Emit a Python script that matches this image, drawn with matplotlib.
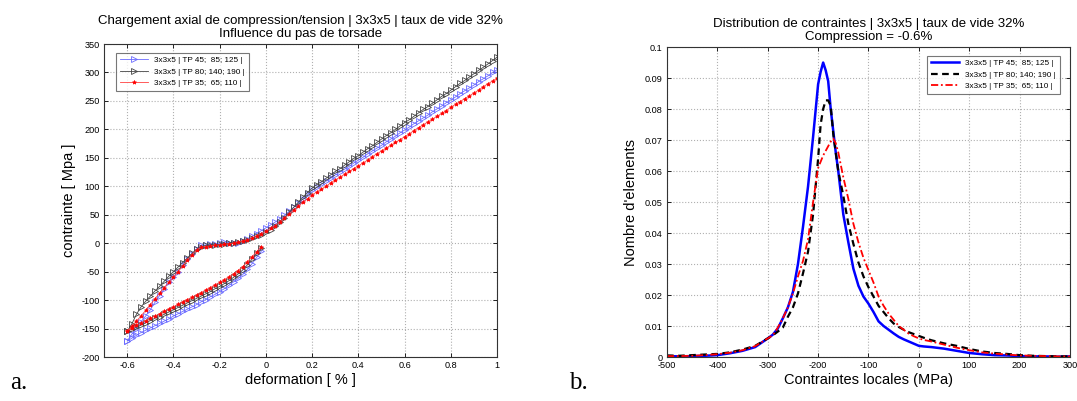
import numpy as np
import matplotlib
matplotlib.use("Agg")
import matplotlib.pyplot as plt

# ---- panel a : loading curves (strain in %, stress in MPa) ----
STRAIN_LOWER = [-0.02, -0.04, -0.06, -0.08, -0.10, -0.12, -0.14, -0.16, -0.18, -0.20,
                -0.22, -0.24, -0.26, -0.28, -0.30, -0.32, -0.34, -0.36, -0.38, -0.40,
                -0.42, -0.44, -0.46, -0.48, -0.50, -0.52, -0.54, -0.56, -0.58, -0.60]
STRAIN_UPPER = [-0.60, -0.58, -0.56, -0.54, -0.52, -0.50, -0.48, -0.46, -0.44, -0.42,
                -0.40, -0.38, -0.36, -0.34, -0.32, -0.30, -0.28, -0.26, -0.24, -0.22,
                -0.20, -0.18, -0.16, -0.14, -0.12, -0.10, -0.08, -0.06, -0.04, -0.02,
                0.00, 0.02, 0.04, 0.06, 0.08, 0.10, 0.12, 0.14, 0.16, 0.18,
                0.20, 0.22, 0.24, 0.26, 0.28, 0.30, 0.32, 0.34, 0.36, 0.38,
                0.40, 0.42, 0.44, 0.46, 0.48, 0.50, 0.52, 0.54, 0.56, 0.58,
                0.60, 0.62, 0.64, 0.66, 0.68, 0.70, 0.72, 0.74, 0.76, 0.78,
                0.80, 0.82, 0.84, 0.86, 0.88, 0.90, 0.92, 0.94, 0.96, 0.98, 1.00]

blue_lower = [-14, -25, -36, -46, -55, -62, -68, -74, -80, -85,
              -90, -94, -99, -103, -108, -112, -116, -120, -124, -128,
              -133, -137, -141, -145, -149, -153, -157, -162, -167, -172]
blue_upper = [-172, -160, -150, -138, -128, -117, -104, -92, -80, -69,
              -59, -50, -38, -28, -19, -10, -4, -3, -2, -1,
              0, 2, 1, 0, 1, 4, 8, 12, 17, 22,
              27, 32, 37, 43, 49, 56, 63, 70, 78, 86,
              93, 98, 104, 109, 114, 120, 125, 130, 135, 141,
              146, 151, 157, 162, 167, 172, 178, 183, 188, 194,
              199, 204, 210, 215, 220, 225, 231, 236, 241, 247,
              252, 257, 263, 268, 273, 278, 284, 289, 294, 300, 305]

black_lower = [-9, -18, -28, -38, -47, -54, -60, -66, -71, -76,
               -80, -85, -89, -93, -97, -101, -105, -109, -113, -117,
               -121, -125, -129, -132, -136, -140, -144, -148, -151, -155]
black_upper = [-155, -142, -125, -112, -102, -93, -84, -76, -67, -58,
               -50, -42, -34, -26, -18, -11, -6, -4, -3, -3,
               -2, -1, 0, 1, 2, 4, 6, 9, 12, 15,
               19, 24, 30, 37, 45, 54, 63, 72, 81, 89,
               97, 103, 108, 114, 120, 126, 131, 137, 143, 149,
               154, 160, 166, 171, 177, 183, 189, 194, 200, 206,
               212, 217, 223, 229, 235, 240, 246, 252, 258, 263,
               269, 275, 281, 286, 292, 298, 304, 309, 315, 321, 327]

red_lower = [-6, -15, -24, -33, -41, -48, -54, -59, -64, -69,
             -73, -78, -82, -87, -91, -95, -99, -103, -107, -112,
             -116, -120, -124, -128, -132, -136, -140, -144, -149, -155]
red_upper = [-155, -146, -137, -128, -118, -108, -98, -88, -78, -69,
             -60, -50, -40, -30, -20, -12, -7, -6, -5, -4,
             -3, -2, -1, 0, 2, 4, 6, 9, 13, 17,
             21, 26, 31, 37, 44, 51, 58, 65, 72, 78,
             85, 90, 95, 100, 106, 111, 116, 121, 126, 131,
             136, 141, 146, 152, 157, 162, 167, 172, 177, 182,
             187, 192, 198, 203, 208, 213, 218, 223, 228, 233,
             239, 244, 249, 254, 259, 264, 269, 275, 280, 285, 290]

LABELS = ["3x3x5 | TP 45;  85; 125 |",
          "3x3x5 | TP 80; 140; 190 |",
          "3x3x5 | TP 35;  65; 110 |"]

# ---- panel b : stress distribution ----
SIGMA = [-500, -475, -450, -425, -400, -375, -350, -325, -300, -290,
         -280, -270, -260, -250, -240, -230, -220, -210, -200, -195,
         -190, -185, -180, -175, -170, -165, -160, -150, -140, -130,
         -120, -110, -100, -90, -80, -70, -60, -50, -40, -30,
         -20, -10, 0, 10, 25, 50, 75, 100, 125, 150,
         175, 200, 225, 250, 275, 300]

dist_blue = [0.0003, 0.0002, 0.0003, 0.0004, 0.0006, 0.0012, 0.0020, 0.0032, 0.0060, 0.0072,
             0.0092, 0.0125, 0.0160, 0.0210, 0.0300, 0.0420, 0.0550, 0.0710, 0.0880, 0.0920,
             0.0950, 0.0925, 0.0890, 0.0800, 0.0730, 0.0660, 0.0600, 0.0460, 0.0370, 0.0285,
             0.0230, 0.0195, 0.0172, 0.0145, 0.0115, 0.0100, 0.0088, 0.0076, 0.0065, 0.0057,
             0.0050, 0.0043, 0.0036, 0.0034, 0.0032, 0.0027, 0.0020, 0.0013, 0.0009, 0.0006,
             0.0005, 0.0003, 0.0002, 0.0002, 0.0001, 0.0002]
dist_black = [0.0005, 0.0004, 0.0006, 0.0008, 0.0010, 0.0015, 0.0024, 0.0036, 0.0060, 0.0070,
              0.0082, 0.0095, 0.0130, 0.0160, 0.0205, 0.0270, 0.0340, 0.0460, 0.0640, 0.0750,
              0.0800, 0.0828, 0.0828, 0.0810, 0.0720, 0.0660, 0.0600, 0.0520, 0.0430, 0.0365,
              0.0305, 0.0260, 0.0225, 0.0195, 0.0165, 0.0145, 0.0125, 0.0108, 0.0097, 0.0088,
              0.0080, 0.0074, 0.0068, 0.0062, 0.0054, 0.0044, 0.0036, 0.0026, 0.0018, 0.0013,
              0.0010, 0.0006, 0.0004, 0.0003, 0.0002, 0.0002]
dist_red = [0.0003, 0.0003, 0.0004, 0.0006, 0.0009, 0.0014, 0.0022, 0.0035, 0.0060, 0.0070,
            0.0095, 0.0125, 0.0160, 0.0205, 0.0260, 0.0310, 0.0380, 0.0500, 0.0610, 0.0630,
            0.0650, 0.0665, 0.0680, 0.0695, 0.0705, 0.0690, 0.0660, 0.0580, 0.0510, 0.0430,
            0.0370, 0.0320, 0.0280, 0.0240, 0.0195, 0.0165, 0.0140, 0.0120, 0.0100, 0.0088,
            0.0075, 0.0067, 0.0060, 0.0055, 0.0050, 0.0040, 0.0030, 0.0022, 0.0015, 0.0011,
            0.0008, 0.0005, 0.0004, 0.0003, 0.0002, 0.0002]

plt.rcParams["font.family"] = ["Liberation Sans", "DejaVu Sans"]
plt.rcParams["axes.unicode_minus"] = False

fig = plt.figure(figsize=(10.77, 4.01), dpi=100)
ax1 = fig.add_axes([0.0966, 0.1097, 0.365, 0.7805])
ax2 = fig.add_axes([0.6193, 0.1097, 0.3742, 0.773])

# panel a
strain = STRAIN_LOWER + STRAIN_UPPER
ax1.plot(strain, blue_lower + blue_upper, color="#6a6aff", lw=0.6,
         marker=">", ms=4, mfc="none", mec="#6a6aff", mew=0.6, label=LABELS[0])
ax1.plot(strain, black_lower + black_upper, color="#444444", lw=0.6,
         marker=">", ms=4, mfc="none", mec="#444444", mew=0.6, label=LABELS[1])
ax1.plot(strain, red_lower + red_upper, color="#ff4040", lw=0.6,
         marker="*", ms=3, mfc="red", mec="red", mew=0.5, label=LABELS[2])

ax1.set_xlim(-0.7, 1.0)
ax1.set_ylim(-200, 350)
xt = [-0.6, -0.4, -0.2, 0, 0.2, 0.4, 0.6, 0.8, 1.0]
ax1.set_xticks(xt)
ax1.set_xticklabels(["-0.6", "-0.4", "-0.2", "0", "0.2", "0.4", "0.6", "0.8", "1"])
ax1.set_yticks(np.arange(-200, 351, 50))
ax1.set_xlabel("deformation [ % ]", fontsize=10.5, labelpad=2)
ax1.set_ylabel("contrainte [ Mpa ]", fontsize=10.5, labelpad=4)
ax1.set_title("Chargement axial de compression/tension | 3x3x5 | taux de vide 32%\n"
              "Influence du pas de torsade", fontsize=9.5, pad=5, linespacing=1.1)
leg1 = ax1.legend(loc="upper left", fontsize=5.9, frameon=True, fancybox=False,
                  edgecolor="#555555", borderpad=0.45, handlelength=3.4,
                  labelspacing=0.45, bbox_to_anchor=(0.02, 0.985))
leg1.get_frame().set_linewidth(0.8)

# panel b
ax2.plot(SIGMA, dist_blue, color="#0000ff", lw=1.8, ls="-", label=LABELS[0])
ax2.plot(SIGMA, dist_black, color="black", lw=1.6, ls=(0, (3, 2)), label=LABELS[1])
ax2.plot(SIGMA, dist_red, color="red", lw=1.3, ls=(0, (4, 1.5, 1, 1.5)), label=LABELS[2])
ax2.set_xlim(-500, 300)
ax2.set_ylim(0, 0.1)
ax2.set_xticks(np.arange(-500, 301, 100))
ax2.set_yticks(np.arange(0, 0.101, 0.01))
ax2.set_yticklabels(["0"] + ["%.2f" % v for v in np.arange(0.01, 0.095, 0.01)] + ["0.1"])
ax2.set_xlabel("Contraintes locales (MPa)", fontsize=10.5, labelpad=2)
ax2.set_ylabel("Nombre d'elements", fontsize=10.5, labelpad=5)
ax2.set_title("Distribution de contraintes | 3x3x5 | taux de vide 32%\n"
              "Compression = -0.6%", fontsize=9.5, pad=5, linespacing=1.1)
leg2 = ax2.legend(loc="upper right", fontsize=5.9, frameon=True, fancybox=False,
                  edgecolor="#555555", borderpad=0.45, handlelength=3.4,
                  labelspacing=0.45, bbox_to_anchor=(0.985, 0.985))
leg2.get_frame().set_linewidth(0.8)

for ax in (ax1, ax2):
    ax.grid(True, ls=":", color="#b0b0b0", lw=0.8)
    ax.tick_params(labelsize=6.6, direction="in", length=3, width=0.6, pad=3,
                   top=True, right=True)
    for sp in ax.spines.values():
        sp.set_linewidth(0.8)
        sp.set_color("#333333")

fig.text(0.009, 0.03, "a.", fontsize=18, family="Liberation Serif")
fig.text(0.528, 0.03, "b.", fontsize=18, family="Liberation Serif")

fig.savefig("out.png", dpi=100)
